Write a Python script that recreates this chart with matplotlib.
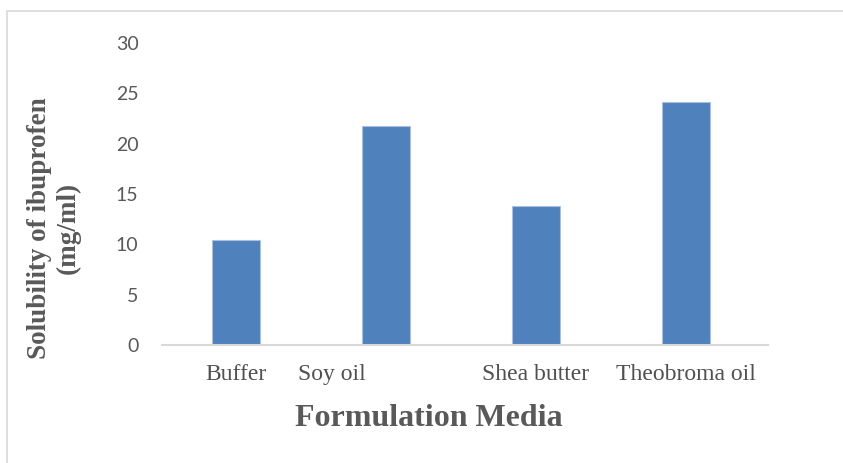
import matplotlib.pyplot as plt
from matplotlib.patches import Rectangle
from matplotlib.transforms import ScaledTranslation

# solubility of ibuprofen in each formulation medium (mg/ml)
media = ["Buffer", "Soy oil", "Shea butter", "Theobroma oil"]
solubility = [10.4, 21.8, 13.8, 24.1]
yticks = [0, 5, 10, 15, 20, 25, 30]

fig = plt.figure(figsize=(8.43, 4.63), dpi=100)
ax = fig.add_axes([162/843, 1 - 345/463, (768 - 162)/843, (345 - 43)/463])

x = list(range(len(media)))
ax.bar(x, solubility, width=0.32, color='#4F81BD', edgecolor='#a9c0e0', linewidth=0.8, zorder=2)

ax.set_xlim(-0.493, 3.547)
ax.set_ylim(0, 30)
ax.set_yticks(yticks)
ax.set_xticks(x)
ax.set_xticklabels(media, family='Liberation Serif', fontsize=17, color='#505050')

for lbl in ax.get_yticklabels():
    lbl.set_family('Lato')
    lbl.set_fontsize(14)
    lbl.set_color('#595959')

ax.tick_params(axis='y', length=0, pad=17)
ax.tick_params(axis='x', length=0, pad=14)

# the soy oil label sits left of its bar in the original
soy = ax.get_xticklabels()[1]
soy.set_transform(soy.get_transform() + ScaledTranslation(-0.545, 0, fig.dpi_scale_trans))

for side in ['top', 'right', 'left']:
    ax.spines[side].set_visible(False)
ax.spines['bottom'].set_color('#d9d9d9')
ax.spines['bottom'].set_linewidth(1.5)

# axis titles placed like the original (not centred on the plot area)
fig.text(429/843, 1 - 419/463, "Formulation Media", family='Liberation Serif', fontsize=23,
         fontweight='bold', color='#595959', ha='center', va='center')
fig.text(54/843, 1 - 228/463, "Solubility of ibuprofen\n(mg/ml)", family='Liberation Serif',
         fontsize=19.5, fontweight='bold', color='#595959', rotation=90, ha='center', va='center',
         multialignment='center', linespacing=1.22)

# light chart border
fig.add_artist(Rectangle((7/843, -0.2), 1.5, 1 - 11/463 + 0.2, transform=fig.transFigure,
                         fill=False, edgecolor='#d9d9d9', linewidth=1.2))

fig.savefig('out.png', dpi=100)
